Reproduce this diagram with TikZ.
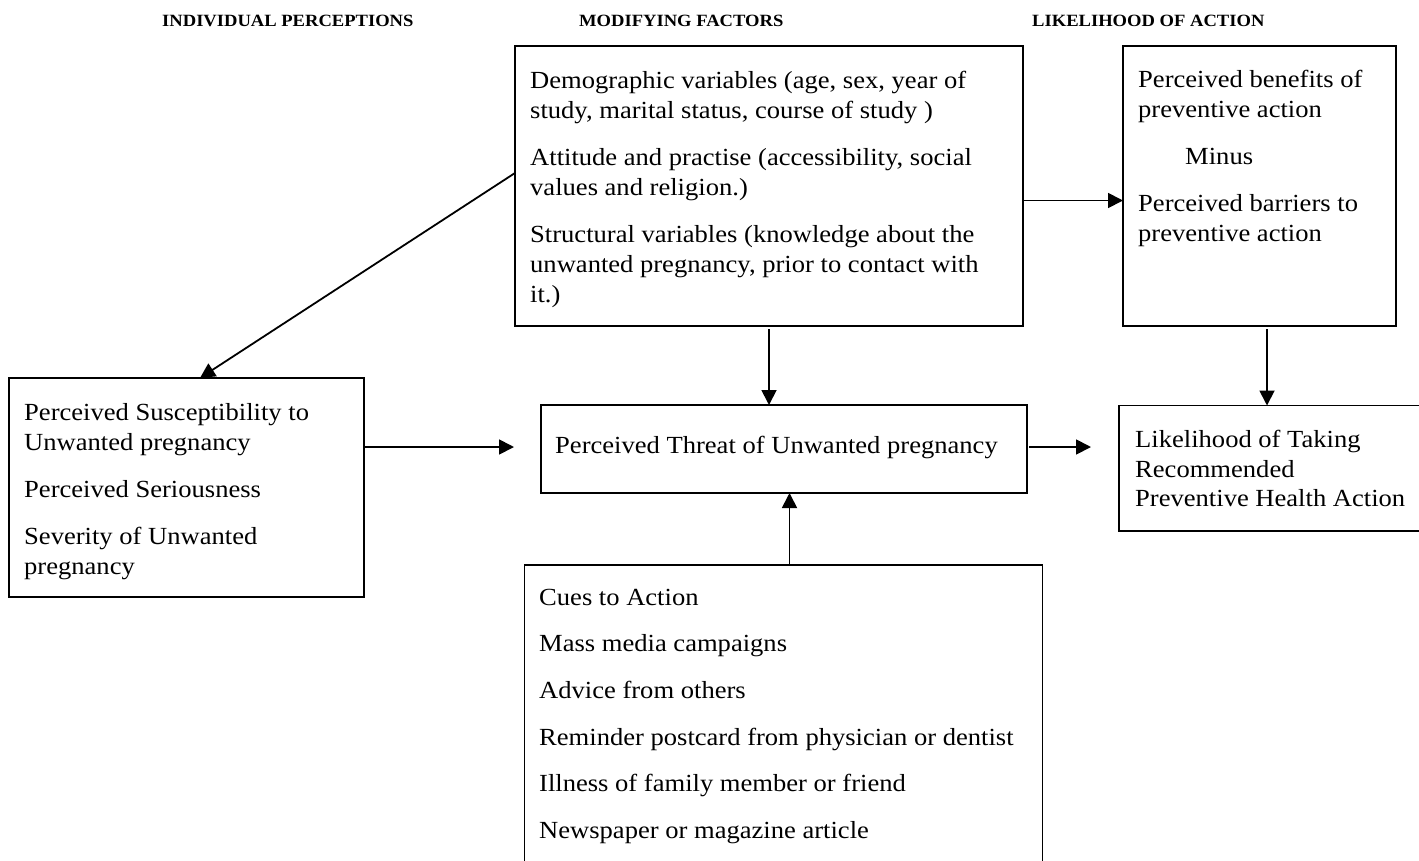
\documentclass[tikz,border=0pt]{standalone}
\usepackage{fontspec}
\setmainfont{Liberation Serif}[FakeStretch=1.08]
\usetikzlibrary{arrows.meta,calc}
\begin{document}
\begin{tikzpicture}[x=1pt,y=-1pt,
  box/.style={draw, line width=1.3pt, rectangle, inner sep=0pt, outer sep=0pt, anchor=north west},
  txt/.style={anchor=north west, inner sep=0pt, align=left, font=\fontsize{24.6}{30}\selectfont},
  hdr/.style={anchor=base west, inner sep=0pt, font=\bfseries\fontsize{17.2}{20}\selectfont},
  arr/.style={line width=1.8pt, -{Triangle[length=15pt,width=15pt]}}]
\useasboundingbox (0,0) rectangle (1419,860);

% headers
\node[hdr] (h1) at (162,26) {INDIVIDUAL PERCEPTIONS};
\node[hdr] (h2) at (579,26) {MODIFYING FACTORS};
\node[hdr] (h3) at (1032,26) {LIKELIHOOD OF ACTION};

% boxes
\node[box, minimum width=508pt, minimum height=280pt] (mod) at (515,46) {};
\node[box, minimum width=273pt, minimum height=280pt] (ben) at (1123,46) {};
\node[box, minimum width=355pt, minimum height=219pt] (left) at (9,378) {};
\node[box, minimum width=486pt, minimum height=88pt] (threat) at (541,405) {};
\node[box, minimum width=301pt, minimum height=125.5pt] (lik) at (1119,405.5) {};
\node[box, minimum width=518pt, minimum height=305pt] (cues) at (524.5,565) {};

% texts
\node[txt] (modt) at (530,68) {\rule{0pt}{20pt}Demographic variables (age, sex, year of\\
study, marital status, course of study )\\[17pt]
Attitude and practise (accessibility, social\\
values and religion.)\\[17pt]
Structural variables (knowledge about the\\
unwanted pregnancy, prior to contact with\\
it.)};

\node[txt] (bent) at (1138,67.7) {\rule{0pt}{20pt}Perceived benefits of\\
preventive action\\[17pt]
\hspace*{47pt}Minus\\[17pt]
Perceived barriers to\\
preventive action};

\node[txt] (leftt) at (24,400) {\rule{0pt}{20pt}Perceived Susceptibility to\\
Unwanted pregnancy\\[17pt]
Perceived Seriousness\\[17pt]
Severity of Unwanted\\
pregnancy};

\node[txt] (threatt) at (555,433) {\rule{0pt}{20pt}Perceived Threat of Unwanted pregnancy};

\node[txt, font=\fontsize{24.6}{29.7}\selectfont] (likt) at (1135,427.3) {\rule{0pt}{20pt}Likelihood of Taking\\
Recommended\\
Preventive Health Action};

\node[txt, font=\fontsize{24.6}{46.6}\selectfont] (cuest) at (539,585) {\rule{0pt}{20pt}Cues to Action\\
Mass media campaigns\\
Advice from others\\
Reminder postcard from physician or dentist\\
Illness of family member or friend\\
Newspaper or magazine article};

% connectors
\draw[arr] ([yshift=-14.5pt]mod.east) -- ([yshift=-14.5pt]ben.west);
\draw[arr] ([yshift=-3pt]mod.south) -- (mod.south |- threat.north);
\draw[arr] ([yshift=13pt]mod.west) -- ([xshift=13.5pt]left.north);
\draw[arr] ([yshift=2pt]left.east |- threat.west) -- ([xshift=-27pt,yshift=2pt]threat.west);
\draw[arr] ([xshift=2pt,yshift=2pt]threat.east) -- ($(threat.east -| lik.west)+(-28,-2)$);
\draw[arr] ([xshift=6pt]cues.north) -- ([xshift=6pt]cues.north |- threat.south);
\draw[arr] ($([xshift=-2.5pt]lik.north |- ben.south)+(0,3)$) -- ([xshift=-2.5pt]lik.north);
\end{tikzpicture}
\end{document}
